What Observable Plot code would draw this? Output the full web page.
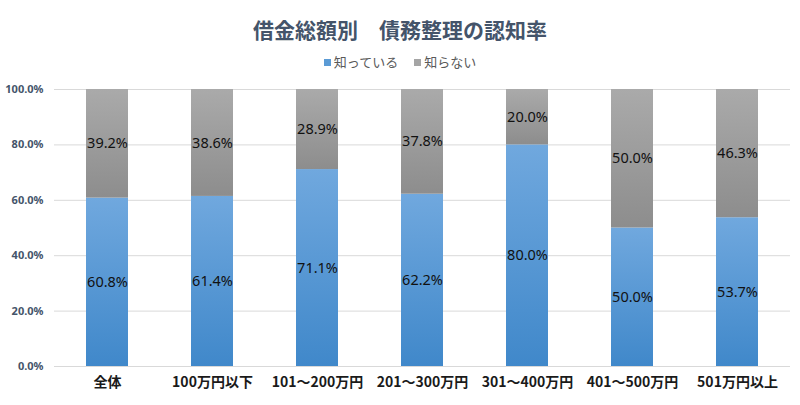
<!DOCTYPE html>
<html>
<head>
<meta charset="utf-8">
<script src="https://cdn.jsdelivr.net/npm/d3@7"></script>
<script src="https://cdn.jsdelivr.net/npm/@observablehq/plot@0.6"></script>
<style>
  html, body { margin: 0; padding: 0; background: #fff; }
  #wrap { width: 800px; height: 405px; position: relative; overflow: hidden; }
  #title { position: absolute; left: 0; width: 800px; top: 14px; text-align: center;
    font-family: "Noto Sans CJK JP", sans-serif; font-weight: bold; font-size: 21px;
    color: #44546a; line-height: 30px; white-space: pre; }
  #legend { position: absolute; left: 0; width: 800px; top: 52px; text-align: center;
    font-family: "Noto Sans CJK JP", sans-serif; font-size: 13px; color: #595959; line-height: 20px; }
  .sw { display: inline-block; width: 7px; height: 7px; margin-right: 3px; vertical-align: 1px; }
  .li { margin: 0 8px; }
  #chart { position: absolute; left: 0; top: 75px; }
</style>
</head>
<body>
<div id="wrap">
  <div id="title"></div>
  <div id="legend"></div>
  <div id="chart"></div>
</div>
<script>
const titleText = "借金総額別　債務整理の認知率";
const categories = ["全体", "100万円以下", "101～200万円", "201～300万円", "301～400万円", "401～500万円", "501万円以上"];
const seriesNames = ["知っている", "知らない"];
const known   = [60.8, 61.4, 71.1, 62.2, 80.0, 50.0, 53.7];
const unknown = [39.2, 38.6, 28.9, 37.8, 20.0, 50.0, 46.3];
const yTicks = [0, 0.2, 0.4, 0.6, 0.8, 1.0];
const legendColors = ["#5b9bd5", "#a5a5a5"];

document.getElementById("title").textContent = titleText;
document.getElementById("legend").innerHTML = seriesNames.map((s, i) =>
  `<span class="li"><span class="sw" style="background:${legendColors[i]}"></span>${s}</span>`).join("");

const data = [];
categories.forEach((c, i) => {
  data.push({cat: c, series: seriesNames[0], value: known[i] / 100});
  data.push({cat: c, series: seriesNames[1], value: unknown[i] / 100});
});

const defs = () => {
  const d = d3.create("svg:defs");
  const g1 = d.append("linearGradient").attr("id", "gBlue").attr("x1", 0).attr("y1", 0).attr("x2", 0).attr("y2", 1);
  g1.append("stop").attr("offset", "0%").attr("stop-color", "#70a8de");
  g1.append("stop").attr("offset", "100%").attr("stop-color", "#4088ca");
  const g2 = d.append("linearGradient").attr("id", "gGray").attr("x1", 0).attr("y1", 0).attr("x2", 0).attr("y2", 1);
  g2.append("stop").attr("offset", "0%").attr("stop-color", "#aaaaaa");
  g2.append("stop").attr("offset", "100%").attr("stop-color", "#8d8d8d");
  return d.node();
};

const chart = Plot.plot({
  width: 800,
  height: 330,
  marginLeft: 54,
  marginRight: 10,
  marginTop: 14,
  marginBottom: 39,
  style: {fontFamily: "'Noto Sans CJK JP', sans-serif", background: "transparent"},
  x: {domain: categories, paddingInner: 0.6, paddingOuter: 0.3, label: null, tickSize: 0, tickPadding: 11},
  y: {domain: [0, 1], ticks: yTicks, tickFormat: d3.format(".1%"), label: null, tickSize: 0, tickPadding: 11},
  color: {domain: seriesNames, range: ["url(#gBlue)", "url(#gGray)"]},
  marks: [
    defs,
    Plot.gridY(yTicks, {stroke: "#d9d9d9", strokeOpacity: 1, strokeWidth: 1}),
    Plot.barY(data, Plot.stackY({x: "cat", y: "value", z: "series", fill: "series", order: seriesNames})),
    Plot.text(data, Plot.stackY({x: "cat", y: "value", z: "series", order: seriesNames,
      text: d => d3.format(".1%")(d.value), fill: "#111111", fontSize: 14.5,
      fontFamily: "'Noto Sans', sans-serif"})),
    Plot.axisY({ticks: yTicks, tickFormat: d3.format(".1%"), tickSize: 0, tickPadding: 11,
      fontSize: 11, fontWeight: "bold", fill: "#44546a", fontFamily: "'Noto Sans', sans-serif"}),
    Plot.axisX({tickSize: 0, tickPadding: 11, fontSize: 14, fontWeight: "bold", fill: "#1a1a1a"})
  ]
});
document.getElementById("chart").appendChild(chart);
</script>
</body>
</html>
